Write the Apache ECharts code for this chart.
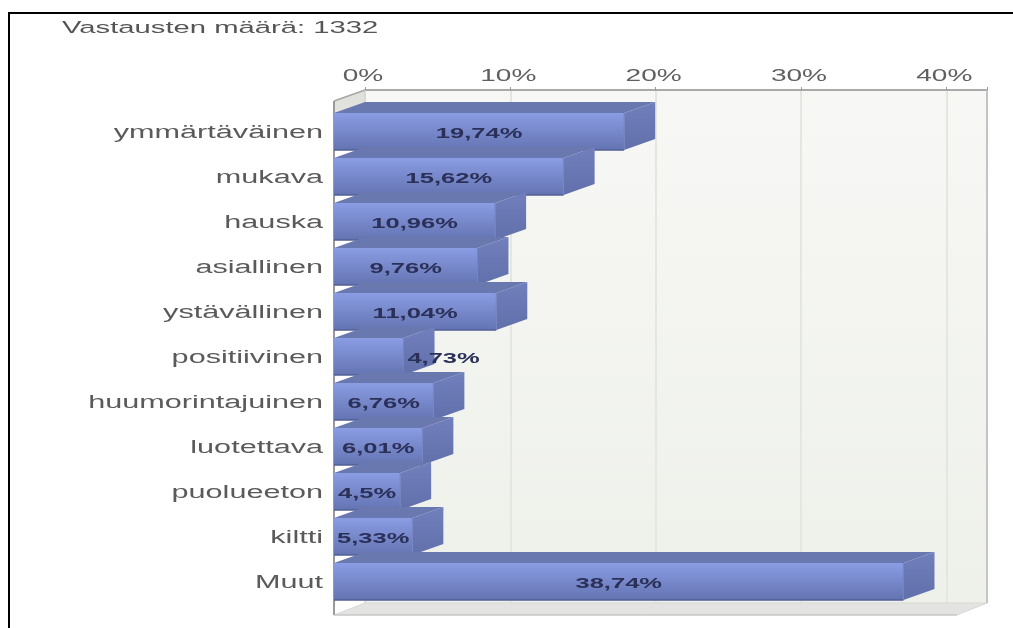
<!DOCTYPE html>
<html><head><meta charset="utf-8">
<style>html,body{margin:0;padding:0;background:#fff}#c{width:1013px;height:628px}</style>
<script src="https://cdn.jsdelivr.net/npm/echarts@6/dist/echarts.min.js"></script>
</head><body><div id="c"></div>
<script>
const titleText = 'Vastausten määrä: 1332';
const categories = ['ymmärtäväinen','mukava','hauska','asiallinen','ystävällinen','positiivinen','huumorintajuinen','luotettava','puolueeton','kiltti','Muut'];
const values = [19.74,15.62,10.96,9.76,11.04,4.73,6.76,6.01,4.5,5.33,38.74];
const ticks = [0,10,20,30,40];

const DX = 31, DY = 11, STRETCH = 1.7;
const FONT = '"Liberation Sans", Arial, sans-serif';
const grad = (a,b)=>new echarts.graphic.LinearGradient(0,0,0,1,[{offset:0,color:a},{offset:1,color:b}]);

function stretchedText(x,y,text,align,size,color,weight){
  return {type:'text',x,y,scaleX:STRETCH,z2:20,silent:true,
    style:{x:0,y:0,text,align,verticalAlign:'middle',fontFamily:FONT,fontSize:size,fontWeight:weight||'normal',fill:color}};
}

function renderWall(params){
  const c = params.coordSys, l=c.x, t=c.y, r=c.x+c.width, b=c.y+c.height;
  const poly=(pts,style)=>({type:'polygon',shape:{points:pts},style});
  return {type:'group',children:[
    poly([[l-DX,t+11],[l,t],[l,b],[l-DX,b+12]],{fill:new echarts.graphic.LinearGradient(0,0,0,1,[{offset:0,color:'#dfdfdb'},{offset:0.05,color:'#e3e3df'},{offset:0.09,color:'#ffffff'},{offset:1,color:'#ffffff'}])}),
    poly([[l-DX,b+12],[l,b],[r,b],[r-DX+1,b+12]],{fill:'#e3e4e1',stroke:'#d8d9d6',lineWidth:1}),
    {type:'line',shape:{x1:l-DX,y1:t+11,x2:l-DX,y2:b+12},style:{stroke:'#9a9a9a',lineWidth:2}},
    {type:'line',shape:{x1:l-DX,y1:t+11,x2:l,y2:t},style:{stroke:'#a5a5a5',lineWidth:1.5}},
    {type:'line',shape:{x1:l,y1:t,x2:l,y2:b},style:{stroke:'#cfcfcf',lineWidth:1}},
    {type:'line',shape:{x1:r,y1:t,x2:r,y2:b},style:{stroke:'#c4c4c4',lineWidth:2}},
    {type:'line',shape:{x1:l-DX,y1:b+12,x2:r-DX+1,y2:b+12},style:{stroke:'#bdbdbd',lineWidth:1}}
  ]};
}

function renderBar(params,api){
  const v=api.value(0), idx=api.value(1);
  const end=api.coord([v,idx]), start=api.coord([0,idx]);
  const h=37, top=end[1]-h/2, bot=top+h, x0=start[0], x1=end[0];
  const poly=(pts,style)=>({type:'polygon',shape:{points:pts},style});
  return {type:'group',children:[
    poly([[x0,top],[x0+DX,top-DY],[x1+DX,top-DY],[x1,top]],{fill:'#6a78b0'}),
    poly([[x1,top],[x1+DX,top-DY],[x1+DX,bot-DY],[x1,bot]],{fill:grad('#7180bc','#6170ab')}),
    {type:'rect',shape:{x:x0,y:top,width:x1-x0,height:h},style:{fill:grad('#8a9ce3','#6474b2')}},
    {type:'line',shape:{x1:x0,y1:bot,x2:x1,y2:bot},style:{stroke:'#525f96',lineWidth:1.5}},
    {type:'line',shape:{x1:x1,y1:top,x2:x1,y2:bot},style:{stroke:'#7483c4',lineWidth:1}}
  ]};
}

function renderBarLabel(params,api){
  const v=api.value(0), idx=api.value(1);
  const end=api.coord([v,idx]), start=api.coord([0,idx]);
  const text=String(v).replace('.',',')+'%';
  const face=end[0]-start[0];
  const cx=text.length*15>face ? end[0]+40 : (start[0]+end[0])/2;
  return stretchedText(cx,end[1]+2,text,'center',15,'#2b3058','bold');
}

function renderCatLabel(params,api){
  const idx=api.value(0);
  const p=api.coord([0,idx]);
  return stretchedText(p[0]-11,p[1]+2,categories[idx],'right',18,'#5a5a5a');
}

function renderTickLabel(params,api){
  const v=api.value(0);
  const p=api.coord([v,0]);
  return stretchedText(p[0]-2,76,v+'%','center',16.5,'#5f5f5f');
}

const option={
  animation:false,
  backgroundColor:'#ffffff',
  grid:[
    {left:365,top:90,width:622,height:513,show:true,borderWidth:0,backgroundColor:grad('#f7f8f5','#eef0ea')},
    {left:334,top:109,width:617.4,height:495,show:false}
  ],
  xAxis:[
    {gridIndex:0,type:'value',position:'top',min:0,max:42.8,interval:10,
      axisLine:{show:true,lineStyle:{color:'#8f8f8f',width:1.5}},
      axisTick:{show:true,length:3,lineStyle:{color:'#999'}},
      axisLabel:{show:false},
      splitLine:{show:true,lineStyle:{color:'#e4e7e0',width:2}}},
    {gridIndex:1,type:'value',min:0,max:42,show:false}
  ],
  yAxis:[
    {gridIndex:0,type:'category',inverse:true,data:categories,show:false},
    {gridIndex:1,type:'category',inverse:true,data:categories,show:false}
  ],
  graphic:[
    {type:'text',x:62,y:28,scaleX:STRETCH,z:50,style:{x:0,y:0,text:titleText,align:'left',verticalAlign:'middle',fontFamily:FONT,fontSize:17.2,fill:'#555555'}},
    {type:'rect',x:8,y:12,z:50,shape:{width:2,height:616},style:{fill:'#000'}},
    {type:'rect',x:8,y:12,z:50,shape:{width:1005,height:2},style:{fill:'#000'}}
  ],
  series:[
    {type:'custom',name:'wall',xAxisIndex:0,yAxisIndex:0,z:1,silent:true,data:[[0,0]],renderItem:renderWall,clip:false,tooltip:{show:false}},
    {type:'custom',name:'ticks',xAxisIndex:0,yAxisIndex:0,z:6,silent:true,data:ticks.map(t=>[t]),encode:{x:0},renderItem:renderTickLabel,clip:false},
    {type:'custom',name:'cats',xAxisIndex:1,yAxisIndex:1,z:6,silent:true,data:categories.map((c,i)=>[i]),encode:{y:0},renderItem:renderCatLabel,clip:false},
    {type:'custom',name:'bars',xAxisIndex:1,yAxisIndex:1,z:3,data:values.map((v,i)=>[v,i]),encode:{x:0,y:1},renderItem:renderBar,clip:false},
    {type:'custom',name:'barLabels',xAxisIndex:1,yAxisIndex:1,z:7,silent:true,data:values.map((v,i)=>[v,i]),encode:{x:0,y:1},renderItem:renderBarLabel,clip:false}
  ]
};
echarts.init(document.getElementById('c'),null,{renderer:'canvas'}).setOption(option);
</script></body></html>
